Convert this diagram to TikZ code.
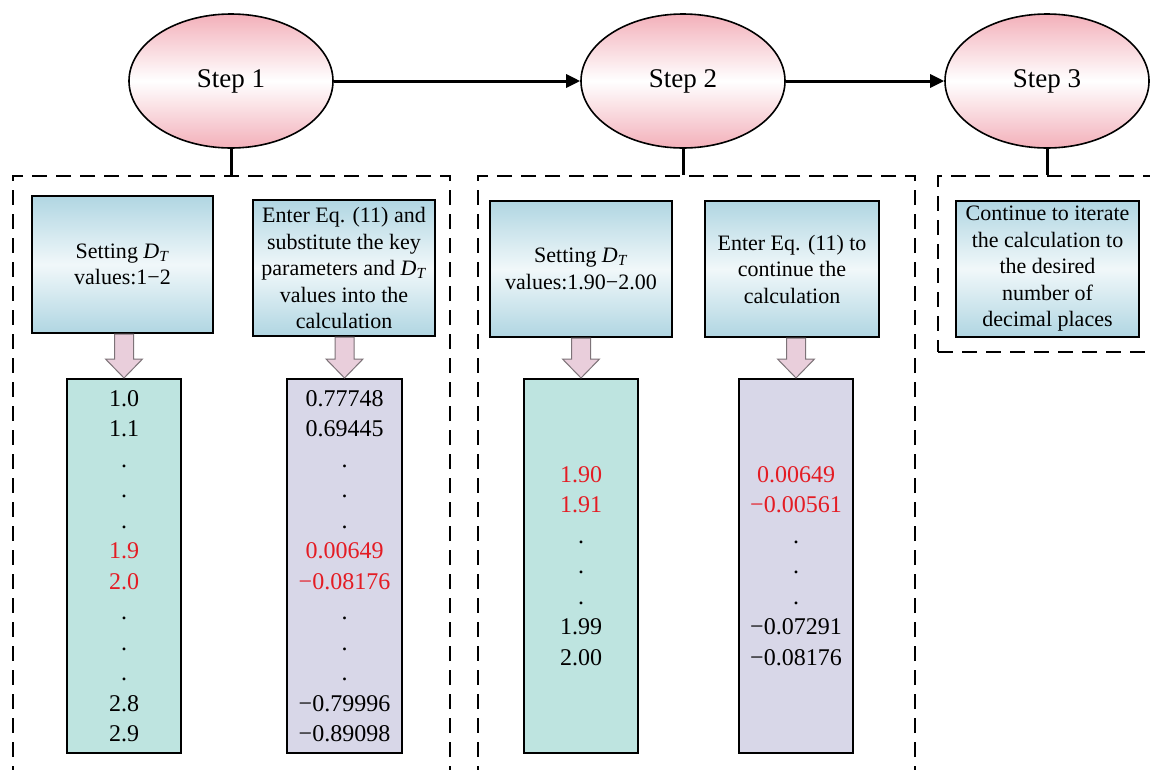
\documentclass[tikz,border=0pt]{standalone}
\usepackage{fontspec}
\setmainfont{Liberation Serif}
\usetikzlibrary{shapes.geometric,arrows.meta,calc}
\definecolor{stepPink}{RGB}{243,176,186}
\definecolor{boxBlue}{RGB}{176,214,226}
\definecolor{dataTeal}{RGB}{190,228,224}
\definecolor{dataPurple}{RGB}{216,215,232}
\definecolor{arrPink}{RGB}{233,206,219}
\definecolor{arrEdge}{RGB}{125,115,120}
\definecolor{valRed}{RGB}{228,28,36}
\newcommand{\DT}{\textit{D}\textsubscript{\textit{T}}}
\newcommand{\rv}[1]{\textcolor{valRed}{#1}}
\newcommand{\blockarr}[2]{\path[blockarrow] let \p1=(#1.south), \p2=(#2.north) in
  (\x2-9.5pt,\y1) -- (\x2+9.5pt,\y1) -- (\x2+9.5pt,\y2+19pt) -- (\x2+18.5pt,\y2+19pt)
  -- (\x2,\y2) -- (\x2-18.5pt,\y2+19pt) -- (\x2-9.5pt,\y2+19pt) -- cycle;}
\begin{document}
\begin{tikzpicture}[x=1pt,y=-1pt,
  stepnode/.style={ellipse,draw=black,line width=1.6pt,minimum width=204pt,minimum height=134pt,inner sep=0pt,
    top color=stepPink,bottom color=stepPink,middle color=white,font=\fontsize{27}{32}\selectfont},
  flow/.style={line width=3pt,-{Triangle[length=14pt,width=13pt]}},
  stub/.style={line width=3pt},
  dashbox/.style={draw=black,line width=2.5pt,dash pattern=on 15pt off 9pt,inner sep=0pt},
  infobox/.style={rectangle,draw=black,line width=2pt,inner sep=0pt,align=center,
    top color=boxBlue,bottom color=boxBlue,middle color=boxBlue!18!white,
    minimum height=136pt,font=\fontsize{22}{26.5}\selectfont},
  databox/.style={rectangle,draw=black,line width=2pt,inner sep=0pt,align=center,
    minimum width=114pt,minimum height=374pt,font=\fontsize{24}{30.5}\selectfont},
  blockarrow/.style={fill=arrPink,draw=arrEdge,line width=1pt,line join=miter}
]
\path[use as bounding box,clip] (0,0) rectangle (1150,769);
\fill[white] (0,0) rectangle (1150,769);

% dashed groups
\node[dashbox,minimum width=437pt,minimum height=624pt] (g1) at (231.5,488) {};
\node[dashbox,minimum width=437pt,minimum height=624pt] (g2) at (696.5,488) {};
\node[dashbox,minimum width=262pt,minimum height=176pt] (g3) at (1069,264) {};

% steps
\node[stepnode] (s1) at (231,81) {Step 1};
\node[stepnode] (s2) at (683,81) {Step 2};
\node[stepnode] (s3) at (1047,81) {Step 3};

\draw[flow] (s1) -- (s2);
\draw[flow] (s2) -- (s3);
\draw[stub] (s1.south) -- (s1.south |- g1.north);
\draw[stub] (s2.south) -- (s2.south |- g2.north);
\draw[stub] (s3.south) -- (s3.south |- g3.north);

% info boxes
\node[infobox,minimum width=181pt,minimum height=137pt] (b11) at (122.5,264.5) {Setting \DT\\values:1−2};
\node[infobox,minimum width=182pt] (b12) at (344,268) {Enter Eq. (11) and\\substitute the key\\parameters and \DT\\values into the\\calculation};
\node[infobox,minimum width=182pt] (b21) at (581,269) {Setting \DT\\values:1.90−2.00};
\node[infobox,minimum width=174pt] (b22) at (792,269) {Enter Eq. (11) to\\continue the\\calculation};
\node[infobox,minimum width=183pt] (b31) at (1047.5,269) {Continue to iterate\\the calculation to\\the desired\\number of\\decimal places};

% data boxes
\node[databox,fill=dataTeal] (d11) at (124,566) {1.0\\1.1\\.\\.\\.\\\rv{1.9}\\\rv{2.0}\\.\\.\\.\\2.8\\2.9};
\node[databox,fill=dataPurple,minimum width=115pt] (d12) at (344.5,566) {0.77748\\0.69445\\.\\.\\.\\\rv{0.00649}\\\rv{−0.08176}\\.\\.\\.\\−0.79996\\−0.89098};
\node[databox,fill=dataTeal] (d21) at (581,566) {\rv{1.90}\\\rv{1.91}\\.\\.\\.\\1.99\\2.00};
\node[databox,fill=dataPurple] (d22) at (796,566) {\rv{0.00649}\\\rv{−0.00561}\\.\\.\\.\\−0.07291\\−0.08176};

% block arrows
\blockarr{b11}{d11}
\blockarr{b12}{d12}
\blockarr{b21}{d21}
\blockarr{b22}{d22}
\end{tikzpicture}
\end{document}
